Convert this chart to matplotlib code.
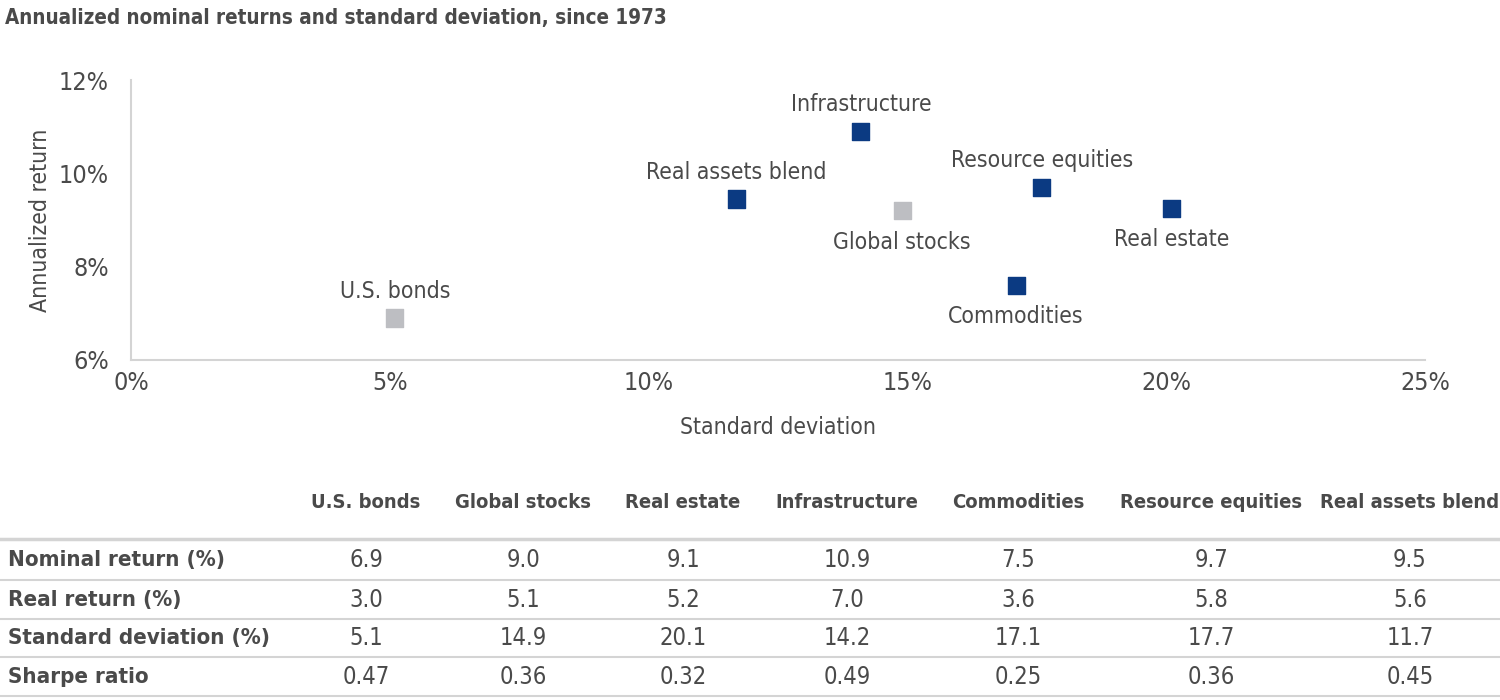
import matplotlib.pyplot as plt
from matplotlib.lines import Line2D
from matplotlib.ticker import FuncFormatter

# Data
assets = ["U.S. bonds", "Global stocks", "Real estate", "Infrastructure",
          "Commodities", "Resource equities", "Real assets blend"]
nominal_return = [6.9, 9.0, 9.1, 10.9, 7.5, 9.7, 9.5]
real_return = [3.0, 5.1, 5.2, 7.0, 3.6, 5.8, 5.6]
std_dev = [5.1, 14.9, 20.1, 14.2, 17.1, 17.7, 11.7]
sharpe = [0.47, 0.36, 0.32, 0.49, 0.25, 0.36, 0.45]
# point positions as drawn in the scatter
plot_x = [5.1, 14.9, 20.1, 14.1, 17.1, 17.6, 11.7]
plot_y = [6.9, 9.2, 9.25, 10.9, 7.6, 9.7, 9.45]
is_real_asset = [False, False, True, True, True, True, True]
label_pos = ["above", "below", "below", "above", "below", "above", "above"]

row_names = ["Nominal return (%)", "Real return (%)", "Standard deviation (%)", "Sharpe ratio"]
row_values = [
    [f"{v:.1f}" for v in nominal_return],
    [f"{v:.1f}" for v in real_return],
    [f"{v:.1f}" for v in std_dev],
    [f"{v:.2f}" for v in sharpe],
]

NAVY = "#0b3a82"
GRAY = "#bdbec2"
TEXT = "#4a4a4a"
LINE = "#d4d4d4"
FONT = ["Liberation Sans Narrow", "DejaVu Sans"]

plt.rcParams["font.family"] = FONT
plt.rcParams["font.stretch"] = "condensed"

fig = plt.figure(figsize=(15, 7), dpi=100)
ax = fig.add_axes([131 / 1500, 1 - 360 / 700, 1294 / 1500, 280 / 700])

colors = [NAVY if r else GRAY for r in is_real_asset]
ax.scatter(plot_x, plot_y, marker="s", s=150, c=colors, zorder=3)

for name, x, y, pos in zip(assets, plot_x, plot_y, label_pos):
    if pos == "above":
        ax.annotate(name, (x, y), xytext=(0, 11), textcoords="offset points",
                    ha="center", va="bottom", fontsize=16.5, color=TEXT)
    else:
        ax.annotate(name, (x, y), xytext=(0, -14.5), textcoords="offset points",
                    ha="center", va="top", fontsize=16.5, color=TEXT)

ax.set_xlim(0, 25)
ax.set_ylim(6, 12)
ax.set_xticks([0, 5, 10, 15, 20, 25])
ax.set_yticks([6, 8, 10, 12])
pct = FuncFormatter(lambda v, _: f"{v:.0f}%")
ax.xaxis.set_major_formatter(pct)
ax.yaxis.set_major_formatter(pct)
ax.tick_params(length=0, labelsize=18, colors=TEXT)
ax.tick_params(axis="x", pad=8)
ax.tick_params(axis="y", pad=16)
for side in ["top", "right"]:
    ax.spines[side].set_visible(False)
for side in ["left", "bottom"]:
    ax.spines[side].set_color(LINE)
    ax.spines[side].set_linewidth(1.5)
ax.set_xlabel("Standard deviation", fontsize=16.5, color=TEXT, labelpad=15)
ax.set_ylabel("Annualized return", fontsize=16.5, color=TEXT, labelpad=5)

fig.text(5 / 1500, 1 - 18 / 700, "Annualized nominal returns and standard deviation, since 1973",
         fontsize=14.8, fontweight="bold", color=TEXT, va="center", ha="left")

# Table below the chart
col_x = [366, 523, 683, 847, 1018, 1211, 1410]
header_y = 502
row_y = [560, 600, 638, 677]
line_y = [539, 580, 619, 657, 696]

for name, cx in zip(assets, col_x):
    fig.text(cx / 1500, 1 - header_y / 700, name, fontsize=14.5, fontweight="bold",
             color=TEXT, ha="center", va="center")
for name, vals, ry in zip(row_names, row_values, row_y):
    fig.text(8 / 1500, 1 - ry / 700, name, fontsize=16, fontweight="bold",
             color=TEXT, ha="left", va="center")
    for v, cx in zip(vals, col_x):
        fig.text(cx / 1500, 1 - ry / 700, v, fontsize=17, color=TEXT,
                 ha="center", va="center")
for i, ly in enumerate(line_y):
    fig.add_artist(Line2D([0, 1], [1 - ly / 700] * 2, transform=fig.transFigure,
                          color=LINE, linewidth=2.5 if i == 0 else 1.5))

fig.savefig("out.png", dpi=100)
